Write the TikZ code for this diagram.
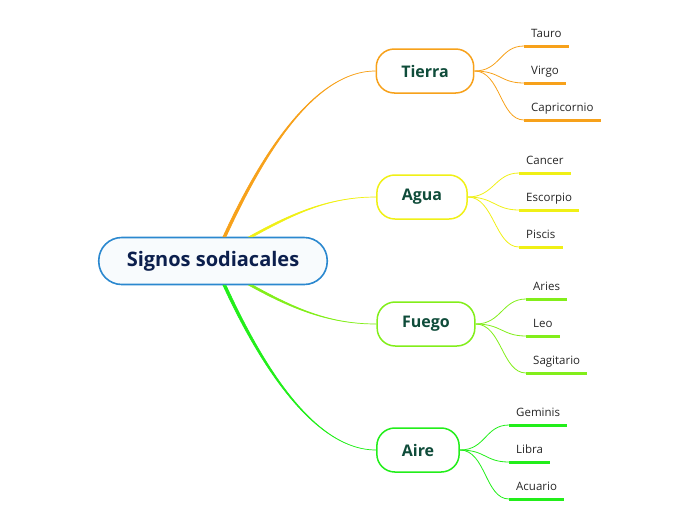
\documentclass[tikz,border=0pt]{standalone}
\usepackage{fontspec}
\setmainfont{Open Sans}
\usetikzlibrary{calc}
\definecolor{rootblue}{HTML}{2B88CF}
\definecolor{rootfill}{HTML}{F8FBFD}
\definecolor{roottext}{HTML}{0C1F4D}
\definecolor{branchtext}{HTML}{0F4C3A}
\definecolor{tierracol}{HTML}{F7A11A}
\definecolor{aguacol}{HTML}{F0F016}
\definecolor{fuegocol}{HTML}{82EE1A}
\definecolor{airecol}{HTML}{22EE1A}
\tikzset{
    rootbox/.style={draw=rootblue,fill=rootfill,line width=1.6pt,rounded corners=23pt,
        minimum height=47pt,inner xsep=28pt,font=\fontsize{20}{24}\selectfont\bfseries,text=roottext},
    branchbox/.style={draw=#1,fill=white,line width=1.5pt,rounded corners=18pt,
        minimum height=44pt,inner xsep=25pt,font=\fontsize{16}{19}\selectfont\bfseries,text=branchtext},
    leaf/.style={anchor=south west,inner xsep=7pt,inner ysep=8pt,text depth=0pt,
        font=\fontsize{11.5}{14}\selectfont,text=black!85},
    leafline/.style={draw=#1,line width=3pt},
    twig/.style={draw=#1,line width=0.8pt},
    stem/.style={fill=#1,draw=#1,line width=0.7pt}
}
\begin{document}
\begin{tikzpicture}[x=1pt,y=-1pt]
    \useasboundingbox (0,0) rectangle (696,520);
    % central topic
    \node[rootbox] (root) at (213,261) {Signos sodiacales};
    % main branches
    \node[branchbox=tierracol] (tierra) at (425,71) {Tierra};
    \node[branchbox=aguacol] (agua) at (422,197) {Agua};
    \node[branchbox=fuegocol] (fuego) at (426,324) {Fuego};
    \node[branchbox=airecol] (aire) at (418,450) {Aire};
    % tapered stems from the centre
    \fill[stem=tierracol] ($(root.north)+(10,0)$) .. controls +(30,-65) and +(-67,0) .. (tierra.west)
        .. controls +(-67,0) and +(30,-65) .. ($(root.north)+(13,0)$) -- cycle;
    \fill[stem=aguacol] ($(root.north)+(36,0)$) .. controls +(45,-25) and +(-45,0) .. (agua.west)
        .. controls +(-45,0) and +(45,-25) .. ($(root.north)+(40,0)$) -- cycle;
    \fill[stem=fuegocol] ($(root.south)+(36,0)$) .. controls +(45,25) and +(-45,0) .. (fuego.west)
        .. controls +(-45,0) and +(45,25) .. ($(root.south)+(40,0)$) -- cycle;
    \fill[stem=airecol] ($(root.south)+(10,0)$) .. controls +(30,65) and +(-67,0) .. (aire.west)
        .. controls +(-67,0) and +(30,65) .. ($(root.south)+(13,0)$) -- cycle;
    % leaves
    \foreach \leafname/\leafy in {Tauro/46,Virgo/83,Capricornio/120}{
        \node[leaf] (\leafname) at (524,\leafy) {\leafname};
        \draw[twig=tierracol] (tierra.east) .. controls +(26,0) and +(-24,0) .. (\leafname.south west);
        \draw[leafline=tierracol] (\leafname.south west) -- (\leafname.south east);
    }
    \foreach \leafname/\leafy in {Cancer/173,Escorpio/210,Piscis/247}{
        \node[leaf] (\leafname) at (519,\leafy) {\leafname};
        \draw[twig=aguacol] (agua.east) .. controls +(26,0) and +(-24,0) .. (\leafname.south west);
        \draw[leafline=aguacol] (\leafname.south west) -- (\leafname.south east);
    }
    \foreach \leafname/\leafy in {Aries/299,Leo/336,Sagitario/373}{
        \node[leaf] (\leafname) at (526,\leafy) {\leafname};
        \draw[twig=fuegocol] (fuego.east) .. controls +(26,0) and +(-24,0) .. (\leafname.south west);
        \draw[leafline=fuegocol] (\leafname.south west) -- (\leafname.south east);
    }
    \foreach \leafname/\leafy in {Geminis/425,Libra/462,Acuario/499}{
        \node[leaf] (\leafname) at (509,\leafy) {\leafname};
        \draw[twig=airecol] (aire.east) .. controls +(26,0) and +(-24,0) .. (\leafname.south west);
        \draw[leafline=airecol] (\leafname.south west) -- (\leafname.south east);
    }
\end{tikzpicture}
\end{document}
